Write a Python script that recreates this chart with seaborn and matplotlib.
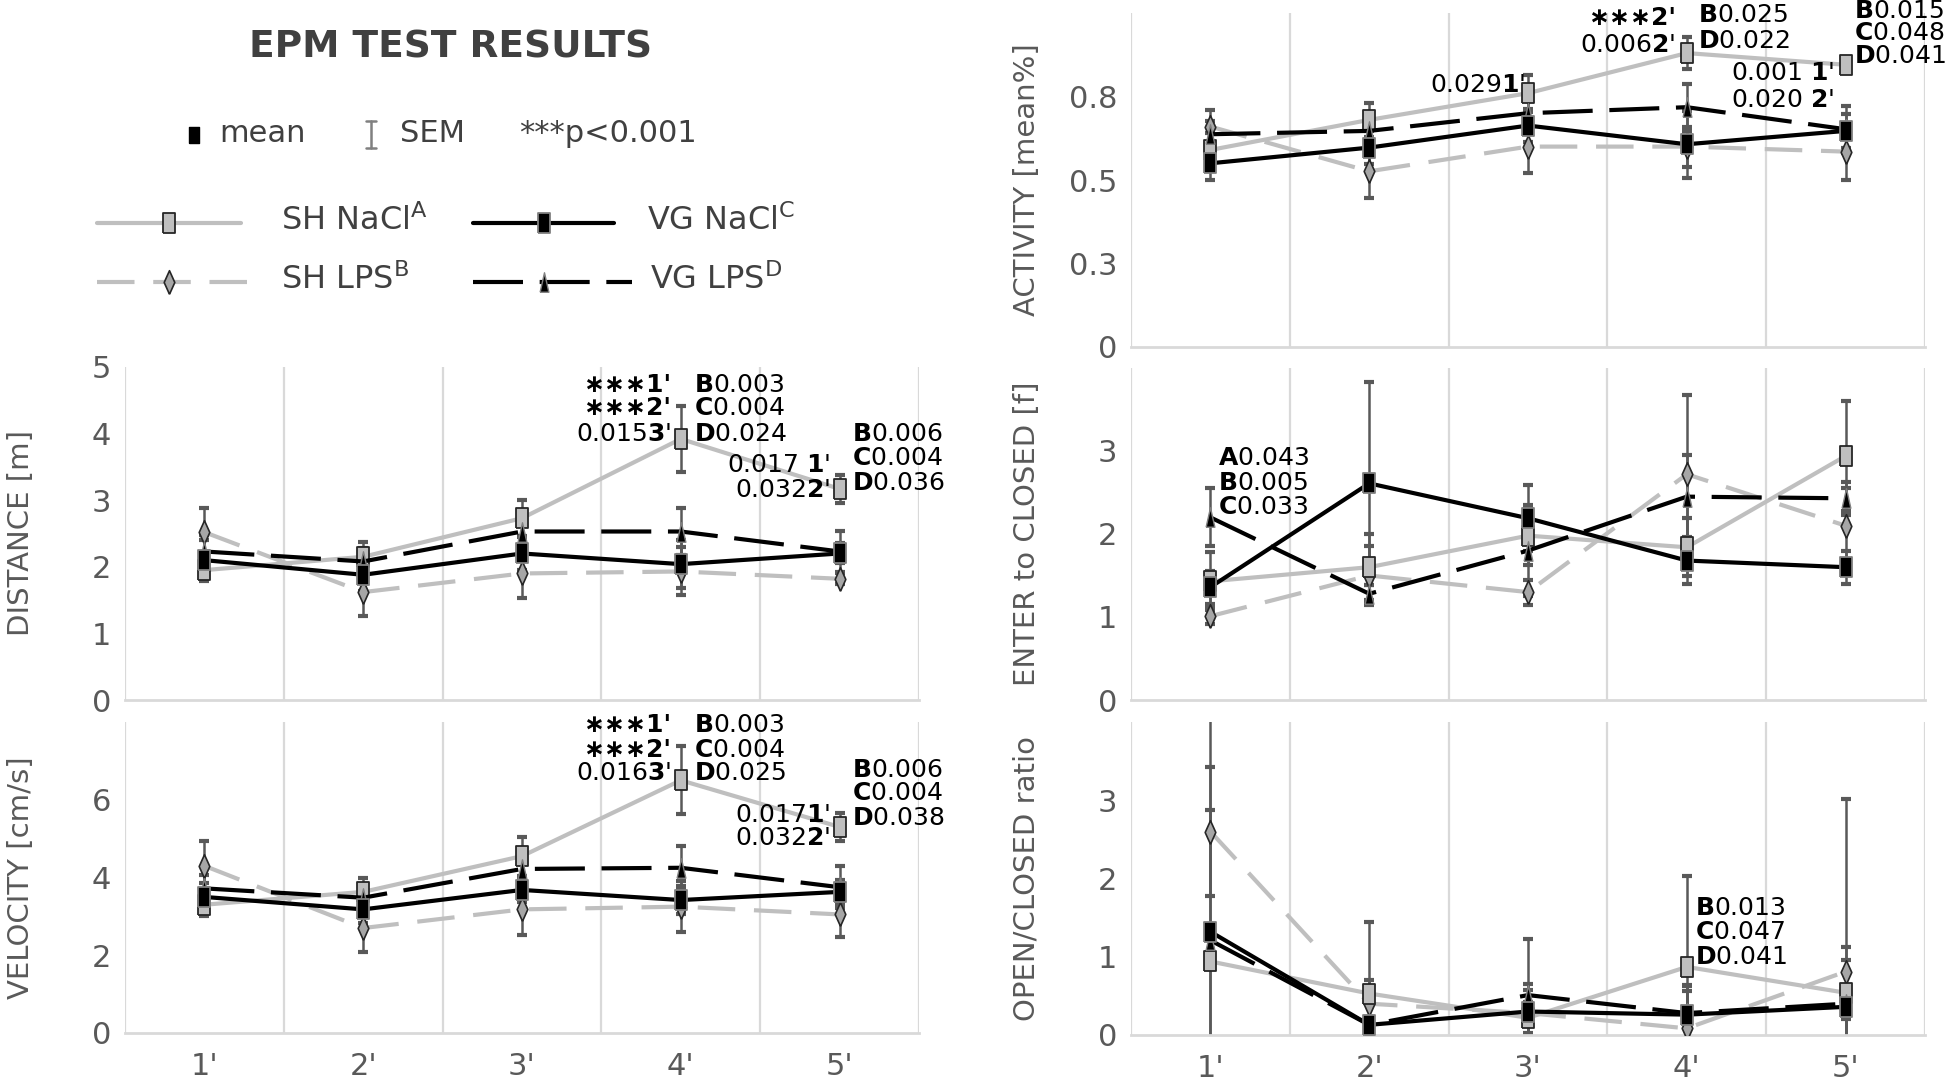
import numpy as np
import pandas as pd
import matplotlib
matplotlib.use("Agg")
import matplotlib.pyplot as plt
import seaborn as sns
from matplotlib.lines import Line2D
from matplotlib import font_manager

sns.set_theme(style="white")
plt.rcParams["font.family"] = ["DejaVu Sans"]
plt.rcParams["mathtext.fontset"] = "dejavusans"

# ---------------- data ----------------
times = ["1'", "2'", "3'", "4'", "5'"]
groups = ["SH NaCl", "SH LPS", "VG NaCl", "VG LPS"]

dist_sh_nacl = [1.95, 2.15, 2.73, 3.92, 3.17]
dist_sh_nacl_sem = [0.17, 0.22, 0.27, 0.50, 0.21]
dist_sh_lps = [2.52, 1.62, 1.90, 1.93, 1.82]
dist_sh_lps_sem = [0.37, 0.36, 0.37, 0.36, 0.08]
dist_vg_nacl = [2.10, 1.88, 2.20, 2.04, 2.20]
dist_vg_nacl_sem = [0.30, 0.25, 0.25, 0.36, 0.15]
dist_vg_lps = [2.23, 2.08, 2.53, 2.53, 2.23]
dist_vg_lps_sem = [0.25, 0.20, 0.25, 0.35, 0.31]

vel_sh_nacl = [3.30, 3.63, 4.55, 6.50, 5.30]
vel_sh_nacl_sem = [0.30, 0.35, 0.50, 0.87, 0.35]
vel_sh_lps = [4.30, 2.70, 3.18, 3.25, 3.05]
vel_sh_lps_sem = [0.64, 0.62, 0.66, 0.65, 0.58]
vel_vg_nacl = [3.50, 3.18, 3.68, 3.42, 3.63]
vel_vg_nacl_sem = [0.35, 0.35, 0.30, 0.35, 0.30]
vel_vg_lps = [3.72, 3.48, 4.22, 4.25, 3.75]
vel_vg_lps_sem = [0.35, 0.30, 0.35, 0.56, 0.54]

act_sh_nacl = [0.59, 0.68, 0.76, 0.88, 0.845]
act_sh_nacl_sem = [0.05, 0.05, 0.055, 0.048, 0.02]
act_sh_lps = [0.66, 0.526, 0.60, 0.60, 0.585]
act_sh_lps_sem = [0.05, 0.08, 0.08, 0.06, 0.085]
act_vg_nacl = [0.55, 0.597, 0.663, 0.607, 0.647]
act_vg_nacl_sem = [0.05, 0.05, 0.05, 0.10, 0.05]
act_vg_lps = [0.637, 0.647, 0.70, 0.718, 0.652]
act_vg_lps_sem = [0.04, 0.05, 0.05, 0.07, 0.07]

ent_sh_nacl = [1.43, 1.60, 1.98, 1.84, 2.94]
ent_sh_nacl_sem = [0.35, 0.40, 0.35, 0.35, 0.66]
ent_sh_lps = [1.01, 1.50, 1.30, 2.72, 2.10]
ent_sh_lps_sem = [0.10, 0.35, 0.15, 0.95, 0.45]
ent_vg_nacl = [1.36, 2.61, 2.19, 1.68, 1.60]
ent_vg_nacl_sem = [0.20, 1.22, 0.40, 0.28, 0.20]
ent_vg_lps = [2.20, 1.28, 1.80, 2.45, 2.43]
ent_vg_lps_sem = [0.35, 0.10, 0.55, 0.50, 0.20]

rat_sh_nacl = [0.94, 0.53, 0.22, 0.87, 0.54]
rat_sh_nacl_sem = [1.94, 0.92, 0.20, 1.16, 0.59]
rat_sh_lps = [2.60, 0.40, 0.28, 0.085, 0.81]
rat_sh_lps_sem = [0.83, 0.30, 0.30, 0.55, 2.20]
rat_vg_nacl = [1.32, 0.13, 0.30, 0.26, 0.36]
rat_vg_nacl_sem = [2.90, 0.10, 0.35, 0.30, 0.60]
rat_vg_lps = [1.21, 0.13, 0.51, 0.28, 0.40]
rat_vg_lps_sem = [0.20, 0.10, 0.72, 0.35, 0.20]

panel_data = {
    "dist": [(dist_sh_nacl, dist_sh_nacl_sem), (dist_sh_lps, dist_sh_lps_sem),
             (dist_vg_nacl, dist_vg_nacl_sem), (dist_vg_lps, dist_vg_lps_sem)],
    "vel": [(vel_sh_nacl, vel_sh_nacl_sem), (vel_sh_lps, vel_sh_lps_sem),
            (vel_vg_nacl, vel_vg_nacl_sem), (vel_vg_lps, vel_vg_lps_sem)],
    "act": [(act_sh_nacl, act_sh_nacl_sem), (act_sh_lps, act_sh_lps_sem),
            (act_vg_nacl, act_vg_nacl_sem), (act_vg_lps, act_vg_lps_sem)],
    "ent": [(ent_sh_nacl, ent_sh_nacl_sem), (ent_sh_lps, ent_sh_lps_sem),
            (ent_vg_nacl, ent_vg_nacl_sem), (ent_vg_lps, ent_vg_lps_sem)],
    "rat": [(rat_sh_nacl, rat_sh_nacl_sem), (rat_sh_lps, rat_sh_lps_sem),
            (rat_vg_nacl, rat_vg_nacl_sem), (rat_vg_lps, rat_vg_lps_sem)],
}

rows = []
for pname, series in panel_data.items():
    for g, (m, s) in zip(groups, series):
        for i, t in enumerate(times):
            rows.append({"panel": pname, "group": g, "x": i, "time": t, "mean": m[i], "sem": s[i]})
df = pd.DataFrame(rows)

# ---------------- styles ----------------
RECT = [(-0.55, -1), (0.55, -1), (0.55, 1), (-0.55, 1), (-0.55, -1)]
DIAM = [(0, -1), (0.45, 0), (0, 1), (-0.45, 0), (0, -1)]
TRI = [(-0.45, -1), (0.45, -1), (0, 1), (-0.45, -1)]
LG = "#BFBFBF"
styles = {
    "SH NaCl": dict(color=LG, linestyle="-", marker=RECT, markerfacecolor="#BFBFBF",
                    markeredgecolor="#262626", markersize=15, markeredgewidth=1.3, zorder=4),
    "SH LPS": dict(color=LG, linestyle=(0, (9, 4.5)), marker=DIAM, markerfacecolor="#A6A6A6",
                   markeredgecolor="#262626", markersize=17, markeredgewidth=1.2, zorder=3),
    "VG NaCl": dict(color="black", linestyle="-", marker=RECT, markerfacecolor="black",
                    markeredgecolor="#808080", markersize=15, markeredgewidth=1.3, zorder=6),
    "VG LPS": dict(color="black", linestyle=(0, (12, 4)), marker=TRI, markerfacecolor="black",
                   markeredgecolor="#808080", markersize=14, markeredgewidth=1.0, zorder=5),
}
draw_order = ["SH LPS", "SH NaCl", "VG LPS", "VG NaCl"]

W, H = 1946, 1091
fig = plt.figure(figsize=(W / 100, H / 100), dpi=100)
fig.patch.set_facecolor("white")


def box(x0, x1, y0, y1):
    return [x0 / W, 1 - y1 / H, (x1 - x0) / W, (y1 - y0) / H]


panels = {
    "dist": dict(rect=box(125, 919, 367, 700), ylim=(0, 5), ticks=[0, 1, 2, 3, 4, 5],
                 labels=None, ylabel="DISTANCE [m]", xlab=False),
    "vel": dict(rect=box(125, 919, 722, 1033), ylim=(0, 8), ticks=[0, 2, 4, 6],
                labels=None, ylabel="VELOCITY [cm/s]", xlab=True),
    "act": dict(rect=box(1131, 1925, 13, 347), ylim=(0, 1), ticks=[0, 0.25, 0.5, 0.75],
                labels=["0", "0.3", "0.5", "0.8"], ylabel="ACTIVITY [mean%]", xlab=False),
    "ent": dict(rect=box(1131, 1925, 368, 700), ylim=(0, 4), ticks=[0, 1, 2, 3],
                labels=None, ylabel="ENTER to CLOSED [f]", xlab=False),
    "rat": dict(rect=box(1131, 1925, 722, 1035), ylim=(0, 4), ticks=[0, 1, 2, 3],
                labels=None, ylabel="OPEN/CLOSED ratio", xlab=True),
}

TXT = "#595959"
axes = {}
for pname, cfg in panels.items():
    ax = fig.add_axes(cfg["rect"])
    axes[pname] = ax
    sub = df[df.panel == pname]
    for g in groups:
        gd = sub[sub.group == g]
        ax.errorbar(gd["x"], gd["mean"], yerr=gd["sem"], fmt="none", ecolor="#595959",
                     elinewidth=1.8, capsize=3.5, capthick=3, zorder=2)
    for g in draw_order:
        gd = sub[sub.group == g]
        st = styles[g]
        sns.lineplot(data=gd, x="x", y="mean", ax=ax, lw=3, errorbar=None, legend=False, **st)
    ax.set_xlim(-0.5, 4.5)
    ax.set_ylim(*cfg["ylim"])
    ax.set_xticks(range(5))
    ax.set_xticks(np.arange(-0.5, 4.6, 1), minor=True)
    ax.grid(False)
    ax.grid(True, which="minor", axis="x", color="#D9D9D9", lw=1.6)
    ax.set_yticks(cfg["ticks"])
    if cfg["labels"] is not None:
        ax.set_yticklabels(cfg["labels"])
    if cfg["xlab"]:
        ax.set_xticklabels(times)
    else:
        ax.set_xticklabels([])
    ax.tick_params(axis="both", which="both", length=0, labelsize=22, labelcolor=TXT)
    ax.tick_params(axis="y", pad=10)
    ax.tick_params(axis="x", pad=14)
    for s in ["top", "right", "left"]:
        ax.spines[s].set_visible(False)
    ax.spines["bottom"].set_color("#D9D9D9")
    ax.spines["bottom"].set_linewidth(2)
    ax.set_xlabel("")
    ax.set_ylabel(cfg["ylabel"], fontsize=21, color=TXT)
    ax.yaxis.label.set_va("center")
    ax.yaxis.set_label_coords(-0.131, 0.5)
    ax.set_facecolor("none")

# ---------------- annotations ----------------
FS = 18


def txt(ax, x, y, s, ha, bold=False):
    ax.text(x, y, s, ha=ha, va="center", fontsize=FS, color="black", clip_on=False,
            zorder=10, fontweight="bold" if bold else "normal")


B = lambda c: r"$\mathbf{" + c + "}$"
STAR = "\u2217\u2217\u2217"

# Distance
a = axes["dist"]
txt(a, 3 - 0.06, 4.73, STAR + "1'", "right", bold=True)
txt(a, 3 - 0.06, 4.38, STAR + "2'", "right", bold=True)
txt(a, 3 - 0.06, 4.0, "0.015" + B("3") + "'", "right")
for y, s in zip([4.73, 4.38, 4.0], [B("B") + "0.003", B("C") + "0.004", B("D") + "0.024"]):
    txt(a, 3 + 0.08, y, s, "left")
for y, s in zip([4.0, 3.63, 3.26], [B("B") + "0.006", B("C") + "0.004", B("D") + "0.036"]):
    txt(a, 4 + 0.08, y, s, "left")
for y, s in zip([3.53, 3.15], ["0.017 " + B("1") + "'", "0.032" + B("2") + "'"]):
    txt(a, 4 - 0.06, y, s, "right")

# Velocity
a = axes["vel"]
txt(a, 3 - 0.06, 7.92, STAR + "1'", "right", bold=True)
txt(a, 3 - 0.06, 7.27, STAR + "2'", "right", bold=True)
txt(a, 3 - 0.06, 6.68, "0.016" + B("3") + "'", "right")
for y, s in zip([7.92, 7.27, 6.68], [B("B") + "0.003", B("C") + "0.004", B("D") + "0.025"]):
    txt(a, 3 + 0.08, y, s, "left")
for y, s in zip([6.76, 6.17, 5.53], [B("B") + "0.006", B("C") + "0.004", B("D") + "0.038"]):
    txt(a, 4 + 0.08, y, s, "left")
for y, s in zip([5.6, 5.01], ["0.017" + B("1") + "'", "0.032" + B("2") + "'"]):
    txt(a, 4 - 0.06, y, s, "right")

# Activity
a = axes["act"]
txt(a, 3 - 0.07, 0.985, STAR + "2'", "right", bold=True)
txt(a, 3 - 0.07, 0.905, "0.006" + B("2") + "'", "right")
for y, s in zip([0.995, 0.915], [B("B") + "0.025", B("D") + "0.022"]):
    txt(a, 3 + 0.07, y, s, "left")
txt(a, 2 - 0.02, 0.785, "0.029" + B("1") + "'", "right")
for y, s in zip([1.006, 0.941, 0.872], [B("B") + "0.015", B("C") + "0.048", B("D") + "0.041"]):
    txt(a, 4 + 0.05, y, s, "left")
for y, s in zip([0.82, 0.74], ["0.001 " + B("1") + "'", "0.020 " + B("2") + "'"]):
    txt(a, 4 - 0.07, y, s, "right")

# Enter to closed
a = axes["ent"]
for y, s in zip([2.92, 2.61, 2.33], [B("A") + "0.043", B("B") + "0.005", B("C") + "0.033"]):
    txt(a, 0 + 0.045, y, s, "left")

# Ratio
a = axes["rat"]
for y, s in zip([1.62, 1.32, 1.0], [B("B") + "0.013", B("C") + "0.047", B("D") + "0.041"]):
    txt(a, 3 + 0.05, y, s, "left")

# ---------------- header / legend (pixel overlay) ----------------
ov = fig.add_axes([0, 0, 1, 1], zorder=-1)
ov.set_xlim(0, W)
ov.set_ylim(H, 0)
ov.axis("off")
ov.patch.set_alpha(0)
HD = "#404040"

names = {f.name for f in font_manager.fontManager.ttflist}
if "Liberation Sans Narrow" in names:
    ov.text(451, 47, "EPM TEST RESULTS", ha="center", va="center", fontsize=34,
            fontweight="bold", color=HD, family="Liberation Sans Narrow")
else:
    ov.text(451, 47, "EPM TEST RESULTS", ha="center", va="center", fontsize=27,
            fontweight="bold", color=HD)
ov.add_line(Line2D([194], [135], marker=RECT, markersize=12, color="black", ls="none"))
ov.text(219, 133, "mean", ha="left", va="center", fontsize=22, color=HD)
ov.add_line(Line2D([371, 371], [121, 148], color="#808080", lw=1.8))
ov.add_line(Line2D([366, 376], [121, 121], color="#808080", lw=1.8))
ov.add_line(Line2D([366, 376], [148, 148], color="#808080", lw=1.8))
ov.text(400, 133, "SEM", ha="left", va="center", fontsize=22, color=HD)
ov.text(519, 133, "***p<0.001", ha="left", va="center", fontsize=22, color=HD)

leg = [
    ("SH NaCl", 97, 241, 169, 223, 281, r"SH NaCl$^\mathrm{A}$"),
    ("SH LPS", 97, 256, 169, 282, 281, r"SH LPS$^\mathrm{B}$"),
    ("VG NaCl", 473, 614, 544, 223, 647, r"VG NaCl$^\mathrm{C}$"),
    ("VG LPS", 473, 632, 544, 282, 650, r"VG LPS$^\mathrm{D}$"),
]
for g, x0, x1, xm, y, xt, label in leg:
    st = dict(styles[g])
    st.pop("zorder")
    col = st.pop("color")
    ls = st.pop("linestyle")
    ov.add_line(Line2D([x0, x1], [y, y], color=col, linestyle=ls, lw=3))
    ov.add_line(Line2D([xm], [y], ls="none", **st))
    ov.text(xt, y - 2, label, ha="left", va="center", fontsize=23, color=HD)

fig.savefig("out.png", dpi=100, facecolor="white")
